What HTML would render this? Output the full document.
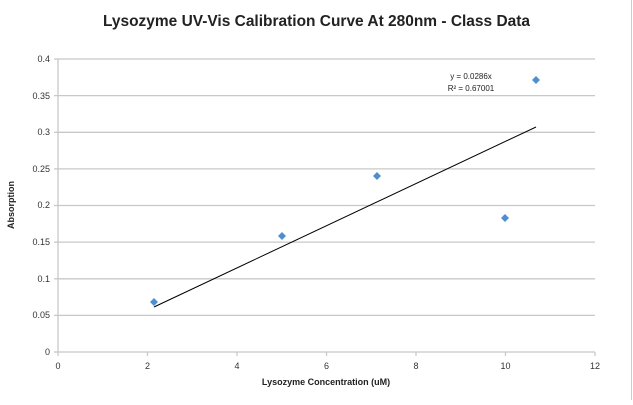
<!DOCTYPE html><html><head><style>body{margin:0;background:#fff}</style></head><body>
<svg width="633" height="400" xmlns="http://www.w3.org/2000/svg" font-family="Liberation Sans, sans-serif">
<rect x="0" y="0" width="633" height="400" fill="#fff"/>
<line x1="631.5" y1="0" x2="631.5" y2="400" stroke="#ccc"/>
<text x="103" y="26" font-size="16" font-weight="bold" fill="#222" textLength="427" lengthAdjust="spacingAndGlyphs">Lysozyme UV-Vis Calibration Curve At 280nm - Class Data</text>
<g stroke="#c8c8c8" stroke-width="1.3">
<line x1="58" y1="59" x2="595" y2="59"/><line x1="58" y1="95.6" x2="595" y2="95.6"/>
<line x1="58" y1="132.3" x2="595" y2="132.3"/><line x1="58" y1="168.9" x2="595" y2="168.9"/>
<line x1="58" y1="205.5" x2="595" y2="205.5"/><line x1="58" y1="242.1" x2="595" y2="242.1"/>
<line x1="58" y1="278.8" x2="595" y2="278.8"/><line x1="58" y1="315.4" x2="595" y2="315.4"/>
<line x1="58" y1="352" x2="595" y2="352"/><line x1="58" y1="59" x2="58" y2="352"/>
<line x1="54" y1="59" x2="58" y2="59"/><line x1="54" y1="95.6" x2="58" y2="95.6"/><line x1="54" y1="132.3" x2="58" y2="132.3"/><line x1="54" y1="168.9" x2="58" y2="168.9"/><line x1="54" y1="205.5" x2="58" y2="205.5"/><line x1="54" y1="242.1" x2="58" y2="242.1"/><line x1="54" y1="278.8" x2="58" y2="278.8"/><line x1="54" y1="315.4" x2="58" y2="315.4"/><line x1="54" y1="352" x2="58" y2="352"/>
<line x1="58" y1="352" x2="58" y2="356"/><line x1="147.5" y1="352" x2="147.5" y2="356"/><line x1="237" y1="352" x2="237" y2="356"/><line x1="326.5" y1="352" x2="326.5" y2="356"/><line x1="416" y1="352" x2="416" y2="356"/><line x1="505.5" y1="352" x2="505.5" y2="356"/><line x1="595" y1="352" x2="595" y2="356"/>
</g>
<g font-size="9" fill="#333" text-anchor="end">
<text x="50" y="62">0.4</text><text x="50" y="99">0.35</text><text x="50" y="135">0.3</text><text x="50" y="172">0.25</text><text x="50" y="208">0.2</text><text x="50" y="245">0.15</text><text x="50" y="282">0.1</text><text x="50" y="318">0.05</text><text x="50" y="355">0</text>
</g>
<g font-size="9" fill="#333" text-anchor="middle">
<text x="58" y="369">0</text><text x="147.5" y="369">2</text><text x="237" y="369">4</text><text x="326.5" y="369">6</text><text x="416" y="369">8</text><text x="505.5" y="369">10</text><text x="595" y="369">12</text>
</g>
<text x="326" y="385" font-size="9" font-weight="bold" text-anchor="middle" fill="#222">Lysozyme Concentration (uM)</text>
<text transform="translate(14,205) rotate(-90)" font-size="9" font-weight="bold" text-anchor="middle" fill="#222">Absorption</text>
<line x1="154" y1="307" x2="536" y2="127" stroke="#000" stroke-width="1"/>
<g fill="#4f8fd0">
<path d="M154 298l4 4-4 4-4-4z"/><path d="M282 232l4 4-4 4-4-4z"/><path d="M377 172l4 4-4 4-4-4z"/><path d="M505 214l4 4-4 4-4-4z"/><path d="M536 76l4 4-4 4-4-4z"/>
</g>
<text x="471" y="79" font-size="8" text-anchor="middle" fill="#222">y = 0.0286x</text>
<text x="471" y="91" font-size="8" text-anchor="middle" fill="#222">R² = 0.67001</text>
</svg></body></html>
